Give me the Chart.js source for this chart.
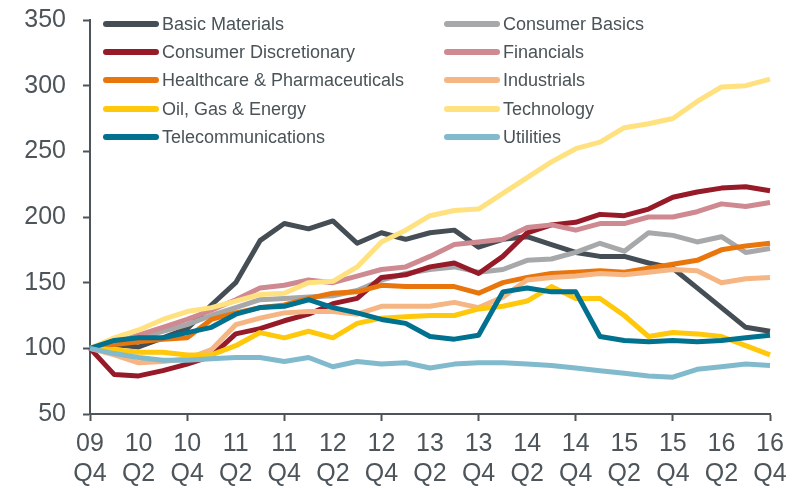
<!DOCTYPE html>
<html>
<head>
<meta charset="utf-8">
<script src="https://cdn.jsdelivr.net/npm/chart.js@4/dist/chart.umd.min.js"></script>
<style>
  html, body { margin: 0; padding: 0; background: #fff; }
  #wrap { position: relative; width: 800px; height: 489px; }
  #legend { position: absolute; left: 0; top: 0; font-family: "Liberation Sans", Arial, sans-serif; font-size: 18px; color: #4a5358; }
  .item { position: absolute; height: 22px; line-height: 22px; white-space: nowrap; }
  .item .swatch { position: absolute; left: 0; top: 8px; width: 56px; height: 6px; border-radius: 3px; }
  .item .txt { position: absolute; left: 59px; top: 0; }
</style>
</head>
<body>
<div id="wrap">
  <canvas id="chart" width="800" height="489"></canvas>
  <div id="legend"></div>
</div>
<script>
const quarters = ['09 Q4','10 Q1','10 Q2','10 Q3','10 Q4','11 Q1','11 Q2','11 Q3','11 Q4',
  '12 Q1','12 Q2','12 Q3','12 Q4','13 Q1','13 Q2','13 Q3','13 Q4','14 Q1','14 Q2','14 Q3','14 Q4',
  '15 Q1','15 Q2','15 Q3','15 Q4','16 Q1','16 Q2','16 Q3','16 Q4'];

const basicMaterials = [100,103,101,108,115,133,150,182,195,191,197,180,188,183,188,190,177,183,185,179,173,170,170,165,161,146,131,116,113];
const consumerBasics = [100,104,108,113,118,125,131,137,138,139,140,144,152,157,160,162,158,160,167,168,173,180,174,188,186,181,185,173,176];
const consumerDiscretionary = [100,80,79,83,88,94,111,115,121,126,134,138,154,156,162,165,157,170,188,194,196,202,201,206,215,219,222,223,220];
const financials = [100,104,110,116,122,129,137,146,148,152,150,155,160,162,170,179,181,183,192,194,190,195,195,200,200,204,210,208,211];
const healthcare = [100,103,105,107,108,122,127,131,133,138,142,143,148,147,147,147,142,150,154,157,158,159,158,161,164,167,175,178,180];
const industrials = [100,95,89,90,92,99,118,123,127,128,128,126,132,132,132,135,131,139,152,154,155,157,156,158,160,159,150,153,154];
const oilGasEnergy = [100,99,97,97,95,95,102,112,108,113,108,119,123,124,125,125,130,132,136,147,138,138,125,109,112,111,109,102,95];
const technology = [100,108,114,122,128,131,136,141,142,150,151,162,181,190,201,205,206,218,230,242,252,257,268,271,275,288,299,300,305];
const telecoms = [100,106,108,108,112,116,126,131,132,137,131,127,122,119,109,107,110,143,146,143,143,109,106,105,106,105,106,108,110];
const utilities = [100,96,93,91,91,92,93,93,90,93,86,90,88,89,85,88,89,89,88,87,85,83,81,79,78,84,86,88,87];

const seriesNames = ['Basic Materials','Consumer Basics','Consumer Discretionary','Financials',
  'Healthcare & Pharmaceuticals','Industrials','Oil, Gas & Energy','Technology','Telecommunications','Utilities'];
const seriesData = [basicMaterials, consumerBasics, consumerDiscretionary, financials, healthcare,
  industrials, oilGasEnergy, technology, telecoms, utilities];
const seriesColors = ['#444e54','#a6a8aa','#971a29','#cf8a91','#e9760c','#f5b684','#ffc80a','#ffe27f','#00718e','#82bacd'];

const axisColor = '#4d555a';

const datasets = seriesNames.map((name, i) => ({
  label: name,
  data: seriesData[i],
  borderColor: seriesColors[i],
  backgroundColor: seriesColors[i],
  borderWidth: 5,
  pointRadius: 0,
  tension: 0,
  borderJoinStyle: 'round',
  order: seriesNames.length - i
}));

new Chart(document.getElementById('chart'), {
  type: 'line',
  data: { labels: quarters, datasets: datasets },
  options: {
    responsive: false,
    animation: false,
    devicePixelRatio: 1,
    layout: { padding: { left: 0, right: 30, top: 20, bottom: 0 } },
    plugins: { legend: { display: false }, tooltip: { enabled: false } },
    scales: {
      x: {
        grid: {
          drawOnChartArea: false,
          tickLength: 7,
          tickWidth: 2,
          tickColor: (c) => (c.index % 4 === 0 ? axisColor : 'rgba(0,0,0,0)')
        },
        border: { color: axisColor, width: 2 },
        ticks: {
          autoSkip: false,
          maxRotation: 0,
          padding: 8,
          color: axisColor,
          font: { family: 'Liberation Sans', size: 25, lineHeight: 1.2 },
          callback: function (v, i) {
            return i % 2 === 0 ? quarters[i].split(' ') : '';
          }
        },
        afterFit: (s) => { s.height = 75; s.paddingLeft = 0; s.paddingRight = 0; }
      },
      y: {
        min: 50,
        max: 350,
        grid: { drawOnChartArea: false, tickLength: 7, tickWidth: 2, tickColor: axisColor },
        border: { color: axisColor, width: 2 },
        ticks: {
          stepSize: 50,
          padding: 17,
          color: axisColor,
          font: { family: 'Liberation Sans', size: 25 }
        },
        afterFit: (s) => { s.width = 90; s.paddingTop = 0; s.paddingBottom = 0; }
      }
    }
  }
});

// legend: two columns, five rows, inside the plot area
const legendEl = document.getElementById('legend');
const colX = [103, 444];
const rowY = [13, 41, 69, 98, 126];
seriesNames.forEach((name, i) => {
  const item = document.createElement('div');
  item.className = 'item';
  item.style.left = colX[i % 2] + 'px';
  item.style.top = rowY[Math.floor(i / 2)] + 'px';
  const sw = document.createElement('span');
  sw.className = 'swatch';
  sw.style.background = seriesColors[i];
  const tx = document.createElement('span');
  tx.className = 'txt';
  tx.textContent = name;
  item.appendChild(sw);
  item.appendChild(tx);
  legendEl.appendChild(item);
});
</script>
</body>
</html>
